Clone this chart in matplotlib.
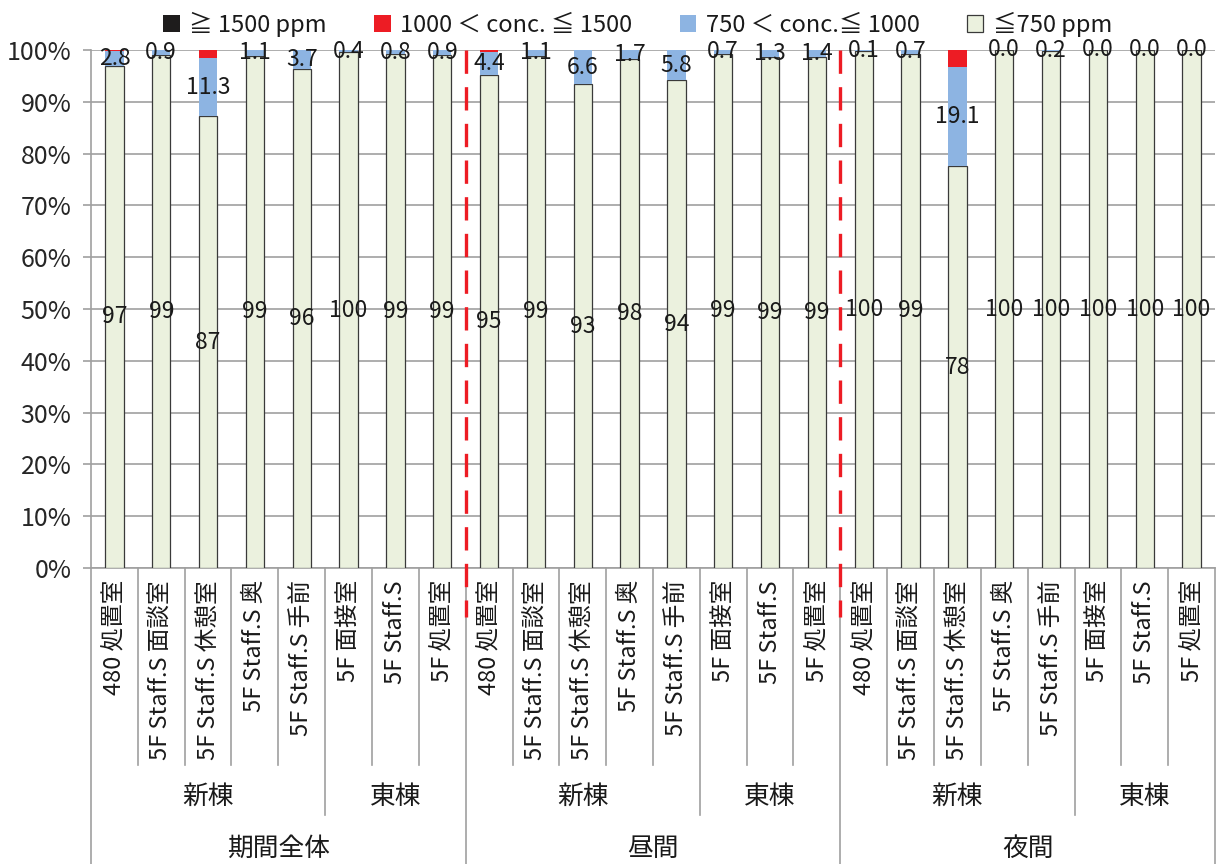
import numpy as np
import matplotlib.pyplot as plt
import matplotlib.transforms as mtransforms

plt.rcParams['font.family'] = ['Noto Sans CJK JP', 'DejaVu Sans']

rooms = ['480 処置室', '5F Staff.S 面談室', '5F Staff.S 休憩室', '5F Staff.S 奥',
         '5F Staff.S 手前', '5F 面接室', '5F Staff.S', '5F 処置室']
buildings = ['新棟', '東棟']
building_sizes = [5, 3]
periods = ['期間全体', '昼間', '夜間']

# share of time (%) in each CO2 band, per period x room
low = [97.0, 99.1, 87.2, 98.9, 96.3, 99.6, 99.2, 99.1,
       95.2, 98.9, 93.4, 98.3, 94.2, 99.3, 98.7, 98.6,
       99.9, 99.3, 77.6, 100.0, 99.8, 100.0, 100.0, 100.0]
mid = [2.8, 0.9, 11.3, 1.1, 3.7, 0.4, 0.8, 0.9,
       4.4, 1.1, 6.6, 1.7, 5.8, 0.7, 1.3, 1.4,
       0.1, 0.7, 19.1, 0.0, 0.2, 0.0, 0.0, 0.0]
high = [0.2, 0.0, 1.5, 0.0, 0.0, 0.0, 0.0, 0.0,
        0.4, 0.0, 0.0, 0.0, 0.0, 0.0, 0.0, 0.0,
        0.0, 0.0, 3.3, 0.0, 0.0, 0.0, 0.0, 0.0]
very_high = [0.0] * 24

labels_legend = ['≧ 1500 ppm', '1000 ＜ conc. ≦ 1500', '750 ＜ conc.≦ 1000', '≦750 ppm']

W, H = 1217, 864
fig = plt.figure(figsize=(W / 100, H / 100), dpi=100)
ax = fig.add_axes([91 / W, 1 - 568 / H, (1215 - 91) / W, (568 - 50) / H])

n = len(low)
x = np.arange(n)
bw = 0.39
low_a, mid_a, high_a = np.array(low), np.array(mid), np.array(high)

b_low = ax.bar(x, low_a, bw, color='#EBF1DE', edgecolor='#3a3a3a', linewidth=0.9, zorder=3)
b_mid = ax.bar(x, mid_a, bw, bottom=low_a, color='#8DB4E2', linewidth=0, zorder=3)
b_high = ax.bar(x, high_a, bw, bottom=low_a + mid_a, color='#ED1C24', linewidth=0, zorder=3)
b_vh = ax.bar(x, very_high, bw, bottom=low_a + mid_a + high_a, color='#1E1C1C',
              linewidth=0, zorder=3)

txt = '#1a1a1a'
fs_tick, fs_val, fs_room, fs_grp, fs_leg = 18, 16.5, 17, 18.5, 17

for i in range(n):
    ax.text(x[i], low[i] / 2, '%.0f' % low[i], ha='center', va='center',
            fontsize=fs_val, color=txt, zorder=5)
    ax.text(x[i], low[i] + mid[i] / 2, '%.1f' % mid[i], ha='center', va='center',
            fontsize=fs_val, color=txt, zorder=5)

ax.set_xlim(-0.5, n - 0.5)
ax.set_ylim(0, 100)
ax.set_yticks(np.arange(0, 101, 10))
ax.set_yticklabels(['%d%%' % v for v in range(0, 101, 10)], fontsize=fs_tick, color='#262626')
ax.yaxis.grid(True, color='#a0a0a0', linewidth=1.2, zorder=0)
ax.tick_params(axis='y', length=6, width=1.2, color='#a0a0a0', pad=8)
ax.set_xticks([])
for s in ['top', 'right']:
    ax.spines[s].set_visible(False)
ax.spines['left'].set_color('#a0a0a0')
ax.spines['left'].set_linewidth(1.2)
ax.spines['bottom'].set_color('#a0a0a0')
ax.spines['bottom'].set_linewidth(1.2)

# multi-level category axis below the plot
tr = mtransforms.blended_transform_factory(ax.transData, fig.transFigure)
def fy(px):
    return 1 - px / H

line_kw = dict(color='#a0a0a0', linewidth=1.2, transform=tr, clip_on=False)
for i in range(n + 1):
    bx = i - 0.5
    if i % 8 == 0:
        y_end = H
    elif i % 8 == building_sizes[0]:
        y_end = 815
    else:
        y_end = 765
    ax.plot([bx, bx], [fy(568), fy(y_end)], **line_kw)

for i in range(n):
    ax.text(x[i], fy(580), rooms[i % 8], rotation=90, ha='center', va='top',
            fontsize=fs_room, color=txt, transform=tr)

for p, period in enumerate(periods):
    start = p * 8
    for b, name in enumerate(buildings):
        s = start + sum(building_sizes[:b])
        center = s + (building_sizes[b] - 1) / 2
        ax.text(center, fy(797), name, ha='center', va='center', fontsize=fs_grp,
                color=txt, transform=tr)
    ax.text(start + 3.5, fy(849), period, ha='center', va='center', fontsize=fs_grp,
            color=txt, transform=tr)

# red dashed separators between periods
for sep in [7.5, 15.5]:
    ax.plot([sep, sep], [fy(50), fy(617)], color='#ED1C24', linewidth=2.4,
            linestyle=(0, (7, 4)), transform=tr, clip_on=False, zorder=6)

fig.legend([b_vh, b_high, b_mid, b_low], labels_legend, ncol=4, loc='center',
           bbox_to_anchor=(0.524, 1 - 24 / H), frameon=False, fontsize=fs_leg,
           handlelength=0.7, handleheight=0.7, handletextpad=0.4,
           columnspacing=2.0, labelcolor=txt)

fig.savefig('out.png', dpi=100)
